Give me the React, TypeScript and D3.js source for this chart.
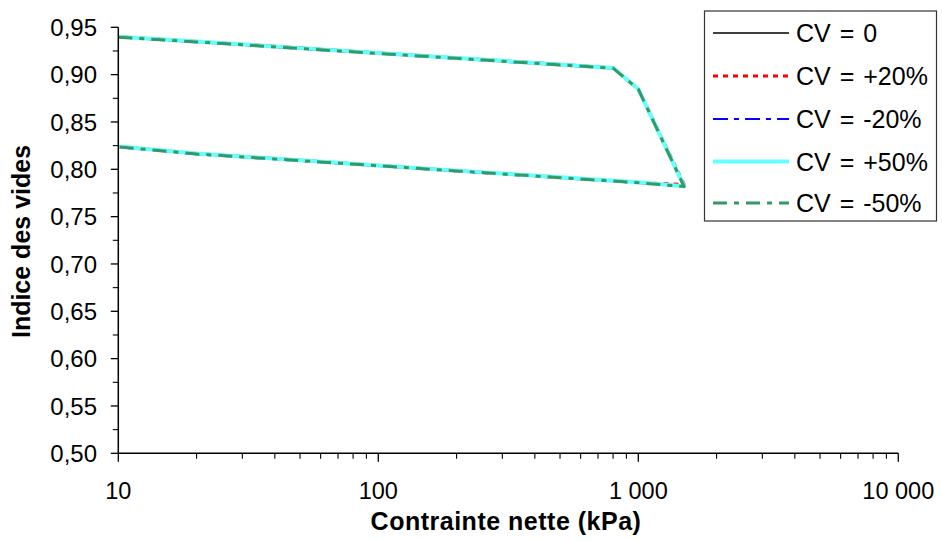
import React from 'react';
import * as d3 from 'd3';

// Net stress steps (kPa): loading then unloading
const stress = [10, 20, 50, 100, 200, 400, 800, 1000, 1500, 1000, 500, 200, 100, 50, 20, 10];

const cv0 = [0.9408, 0.9358, 0.9288, 0.9236, 0.9184, 0.9132, 0.9078, 0.8855, 0.7825, 0.7868, 0.7922, 0.7992, 0.8048, 0.8103, 0.8173, 0.8248];
const cvPlus20 = [0.9398, 0.9348, 0.9278, 0.9226, 0.9174, 0.9121, 0.9069, 0.8848, 0.7840, 0.7860, 0.7913, 0.7983, 0.8039, 0.8094, 0.8163, 0.8238];
const cvMinus20 = [0.9395, 0.9344, 0.9274, 0.9222, 0.9170, 0.9118, 0.9066, 0.8843, 0.7818, 0.7857, 0.7910, 0.7980, 0.8036, 0.8090, 0.8160, 0.8235];
const cvPlus50 = [0.9400, 0.9350, 0.9280, 0.9228, 0.9176, 0.9124, 0.9071, 0.8848, 0.7822, 0.7862, 0.7915, 0.7986, 0.8041, 0.8096, 0.8166, 0.8240];
const cvMinus50 = [0.9396, 0.9346, 0.9276, 0.9224, 0.9172, 0.9120, 0.9068, 0.8846, 0.7818, 0.7858, 0.7912, 0.7982, 0.8037, 0.8092, 0.8162, 0.8237];

const seriesNames = ['CV = 0', 'CV = +20%', 'CV = -20%', 'CV = +50%', 'CV = -50%'];
const seriesValues = [cv0, cvPlus20, cvMinus20, cvPlus50, cvMinus50];
const seriesColors = ['#000000', '#FF0000', '#0000FF', '#66FFFF', '#339966'];
const seriesWidths = [1.6, 3, 2.2, 4, 3];
const seriesDash = ['', '5,5', '15,6,5,6', '', '14,7,5,7'];

const yMajorTicks = [0.5, 0.55, 0.6, 0.65, 0.7, 0.75, 0.8, 0.85, 0.9, 0.95];
const yMinorTicks = [0.525, 0.575, 0.625, 0.675, 0.725, 0.775, 0.825, 0.875, 0.925];
const xMajorTicks = [10, 100, 1000, 10000];
const xMajorLabels = ['10', '100', '1 000', '10 000'];

const FONT = '"Liberation Sans", Arial, Helvetica, sans-serif';

export default function App() {
  const x = d3.scaleLog().domain([10, 10000]).range([118.3, 898.3]);
  const y = d3.scaleLinear().domain([0.5, 0.95]).range([453.3, 27.3]);

  const xMinor: number[] = [];
  [10, 100, 1000].forEach((d) => {
    for (let k = 2; k <= 9; k++) xMinor.push(d * k);
  });

  const line = d3
    .line<[number, number]>()
    .x((d) => x(d[0]))
    .y((d) => y(d[1]));

  const legendX = 704.5;
  const legendY = 11;
  const legendW = 232;
  const legendH = 210;
  const entryY = [33, 76, 119, 161.5, 203];

  return (
    <svg
      width={942}
      height={541}
      style={{ position: 'absolute', left: 0, top: 0, background: '#fff' }}
      fontFamily={FONT}
    >
      <rect x={0} y={0} width={942} height={541} fill="#fff" />

      {/* series */}
      {seriesValues.map((vals, i) => (
        <path
          key={seriesNames[i]}
          d={line(stress.map((s, j) => [s, vals[j]] as [number, number])) || ''}
          fill="none"
          stroke={seriesColors[i]}
          strokeWidth={seriesWidths[i]}
          strokeDasharray={seriesDash[i] || undefined}
          strokeLinejoin="round"
        />
      ))}

      {/* Y axis */}
      <line x1={x(10)} x2={x(10)} y1={y(0.95)} y2={y(0.5)} stroke="#000" strokeWidth={1.5} />
      {yMajorTicks.map((t) => (
        <g key={'ym' + t}>
          <line x1={x(10) - 7.5} x2={x(10)} y1={y(t)} y2={y(t)} stroke="#000" strokeWidth={1.3} />
          <text
            x={97}
            y={y(t)}
            dy="0.36em"
            textAnchor="end"
            fontSize={24}
            fill="#000"
          >
            {t.toFixed(2).replace('.', ',')}
          </text>
        </g>
      ))}
      {yMinorTicks.map((t) => (
        <line key={'yn' + t} x1={x(10) - 5.5} x2={x(10)} y1={y(t)} y2={y(t)} stroke="#000" strokeWidth={1.1} />
      ))}

      {/* X axis */}
      <line x1={x(10)} x2={x(10000)} y1={y(0.5)} y2={y(0.5)} stroke="#000" strokeWidth={1.5} />
      {xMajorTicks.map((t, i) => (
        <g key={'xm' + t}>
          <line x1={x(t)} x2={x(t)} y1={y(0.5)} y2={y(0.5) + 8.5} stroke="#000" strokeWidth={1.3} />
          <text x={x(t)} y={499} textAnchor="middle" fontSize={23.5} fill="#000">
            {xMajorLabels[i]}
          </text>
        </g>
      ))}
      {xMinor.map((t) => (
        <line key={'xn' + t} x1={x(t)} x2={x(t)} y1={y(0.5)} y2={y(0.5) + 5.5} stroke="#000" strokeWidth={1.1} />
      ))}

      {/* Axis titles */}
      <text
        x={506}
        y={530}
        textAnchor="middle"
        fontSize={25}
        fontWeight="bold"
        letterSpacing={0.5}
        fill="#000"
      >
        Contrainte nette (kPa)
      </text>
      <text
        transform="translate(30,241.5) rotate(-90)"
        textAnchor="middle"
        fontSize={25}
        fontWeight="bold"
        fill="#000"
      >
        Indice des vides
      </text>

      {/* Legend */}
      <rect
        x={legendX}
        y={legendY}
        width={legendW}
        height={legendH}
        fill="#fff"
        stroke="#333"
        strokeWidth={1.2}
      />
      {seriesNames.map((name, i) => (
        <g key={'lg' + name}>
          <line
            x1={713}
            x2={789}
            y1={entryY[i]}
            y2={entryY[i]}
            stroke={seriesColors[i]}
            strokeWidth={seriesWidths[i]}
            strokeDasharray={seriesDash[i] || undefined}
          />
          <text x={796} y={entryY[i]} dy="0.36em" fontSize={25} fill="#000" wordSpacing={2}>
            {name}
          </text>
        </g>
      ))}
    </svg>
  );
}
